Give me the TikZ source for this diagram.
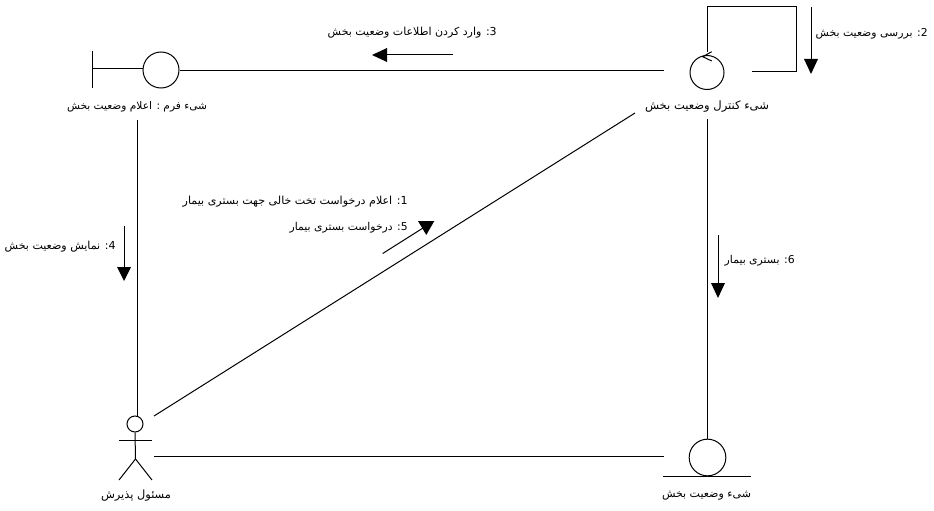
\documentclass[tikz,border=0pt]{standalone}
\usepackage{fontspec}
\usepackage{graphicx}
\TeXXeTstate=1
\newfontfamily\arabicfont[Script=Arabic]{DejaVu Sans}
\usetikzlibrary{calc}
\newlength{\pxunit}\setlength{\pxunit}{0.75pt}
\newcommand{\falabel}[2]{\resizebox{#1\pxunit}{!}{#2}}
\tikzset{
  x=0.75pt,y=-0.75pt,
  conn/.style={draw=black,line width=0.75pt},
  obj/.style={circle,draw=black,line width=0.75pt,inner sep=0pt,fill=none},
  lbl/.style={inner sep=0pt,text=black,font=\fontsize{7pt}{8pt}\selectfont\arabicfont},
  msg/.style={draw=black,line width=0.75pt},
  head/.style={fill=black,draw=none}
}
\begin{document}
\begin{tikzpicture}
\useasboundingbox (0,0) rectangle (934,510);
\fill[white] (0,0) rectangle (934,510);
% objects
\node[obj,minimum size=27pt] (form) at (161,70) {};
\node[obj,minimum size=25.5pt] (ctrl) at (707,72.5) {};
\node[obj,minimum size=27.5pt] (ent) at (707.5,457.5) {};
\node[obj,minimum size=12pt] (actor) at (135,424) {};
% boundary symbol
\coordinate (barT) at (92,51); \coordinate (barB) at (92,88); \coordinate (barM) at (92,69);
\draw[conn] (barT) -- (barB);
\draw[conn] (barM) -- (form.west |- barM);
% control arrow
\coordinate (c1) at (711.7,51.7); \coordinate (c2) at (702.7,56.7); \coordinate (c3) at (711.7,61);
\draw[conn] (c1) -- (c2) -- (c3);
% entity base
\coordinate (baseL) at (663,476); \coordinate (baseR) at (751,476);
\draw[conn] (baseL) -- (baseR);
% actor
\coordinate (hip) at (135.5,459);
\coordinate (armL) at (119,440); \coordinate (armR) at (152,440);
\coordinate (legL) at (119,480); \coordinate (legR) at (152,480);
\draw[conn] (actor.south) -- (hip) -- (legL);
\draw[conn] (hip) -- (legR);
\draw[conn] (armL) -- (armR);
% labels
\node[lbl] (lform) at (137,107) {\falabel{140}{\beginR شیء فرم : اعلام وضعیت بخش\endR}};
\node[lbl] (lctrl) at (707,107) {\falabel{124}{\beginR شیء کنترل وضعیت بخش\endR}};
\node[lbl] (lent) at (706.5,496) {\falabel{89}{\beginR شیء وضعیت بخش\endR}};
\node[lbl] (lactor) at (136,496) {\falabel{70}{\beginR مسئول پذیرش\endR}};
\node[lbl,anchor=east] (m3) at (497,33) {\falabel{169}{\beginR 3: وارد کردن اطلاعات وضعیت بخش\endR}};
\node[lbl,anchor=east] (m2) at (928,34) {\falabel{112}{\beginR 2: بررسی وضعیت بخش\endR}};
\node[lbl,anchor=east] (m1) at (408,202) {\falabel{225}{\beginR 1: اعلام درخواست تخت خالی جهت بستری بیمار\endR}};
\node[lbl,anchor=east] (m5) at (408,228) {\falabel{118}{\beginR 5: درخواست بستری بیمار\endR}};
\node[lbl,anchor=east] (m4) at (116,247) {\falabel{111}{\beginR 4: نمایش وضعیت بخش\endR}};
\node[lbl,anchor=east] (m6) at (795,261) {\falabel{70}{\beginR 6: بستری بیمار\endR}};
% connectors
\coordinate (ctrlW) at (664,71);
\draw[conn] (form.east |- ctrlW) -- (ctrlW);
\coordinate (formDown) at (137,120); \coordinate (actorUp) at (137,416);
\draw[conn] (formDown) -- (actorUp);
\coordinate (diagA) at (154,416); \coordinate (diagC) at (635,113);
\draw[conn] (diagA) -- (diagC);
\coordinate (ctrlDown) at (707,119);
\draw[conn] (ctrlDown) -- (ent.north -| ctrlDown);
\coordinate (actE) at (154,456.5); \coordinate (entW) at (664,456.5);
\draw[conn] (actE) -- (entW);
% self loop
\coordinate (l0s) at (707,52); \coordinate (l0) at (707,7); \coordinate (l1) at (796,7);
\coordinate (l2) at (796,72); \coordinate (l3) at (752,72);
\draw[conn] (l0s) -- (l0) -- (l1) -- (l2) -- (l3);
% message arrows
\draw[msg] (453,55) -- (385,55);
\fill[head] (372,55) -- (387,48) -- (387,62) -- cycle;
\draw[msg] (811,7) -- (811,60);
\fill[head] (811,74) -- (804,59) -- (818,59) -- cycle;
\draw[msg] (124,226) -- (124,268);
\fill[head] (124,281) -- (117,267) -- (131,267) -- cycle;
\draw[msg] (718,235) -- (718,284);
\fill[head] (718,298) -- (711,283) -- (725,283) -- cycle;
\draw[msg] (382.7,253.5) -- (423,228);
\fill[head] (426.3,235) -- (418,221) -- (434.3,221) -- cycle;
\end{tikzpicture}
\end{document}
